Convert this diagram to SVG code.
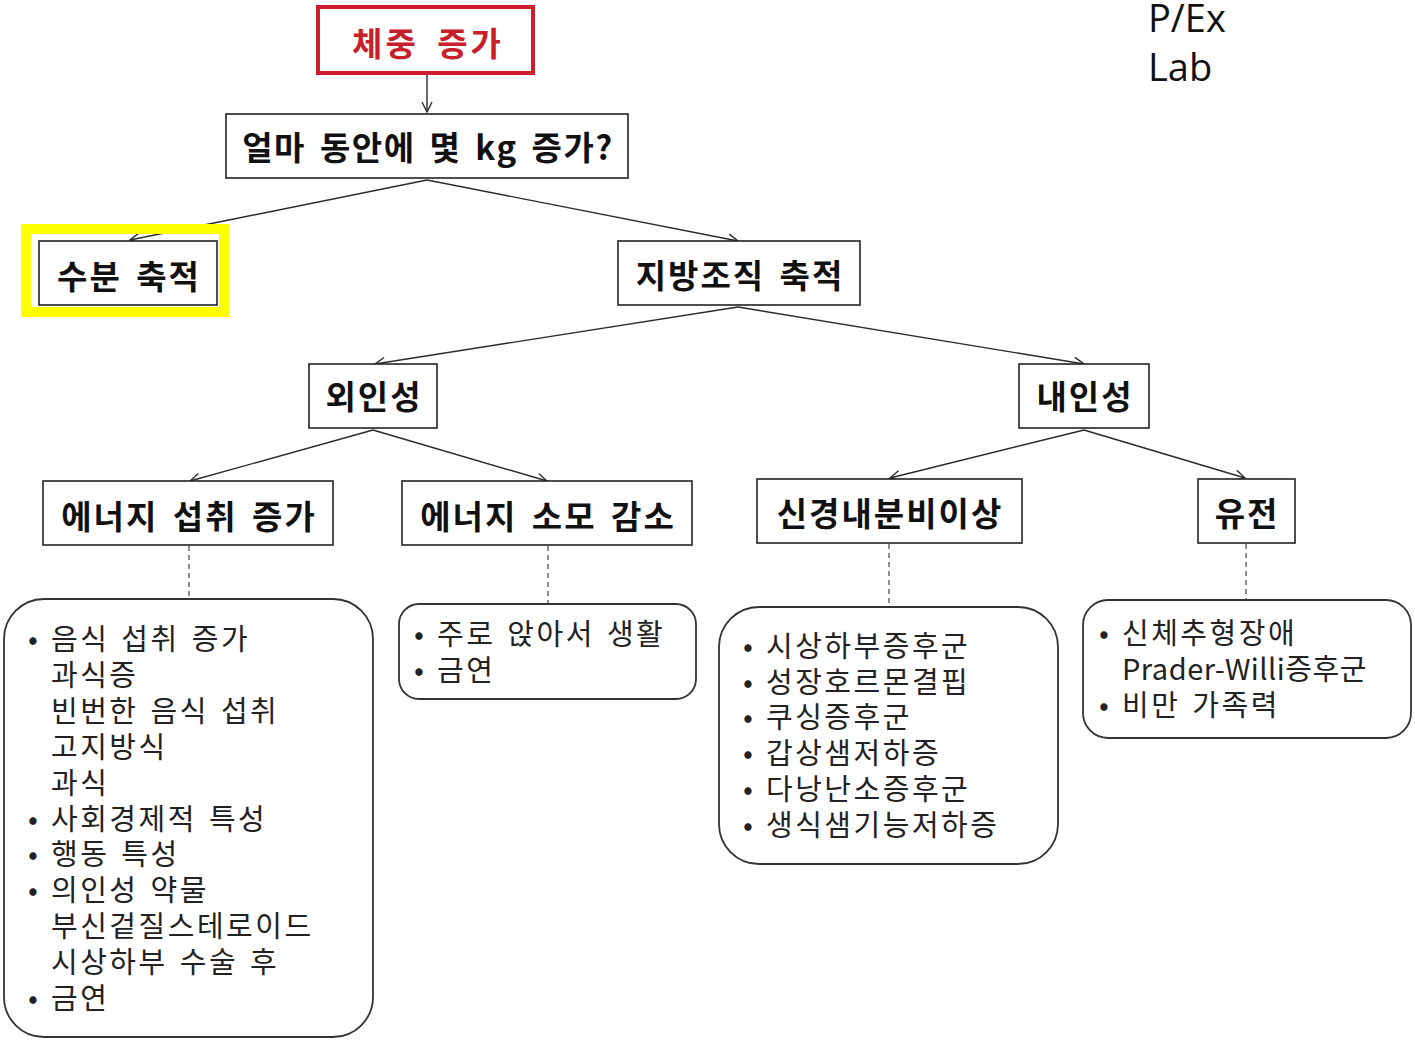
<svg xmlns="http://www.w3.org/2000/svg" width="1415" height="1041" viewBox="0 0 1415 1041">
<style>
.box{fill:#fff;stroke:#222;stroke-width:1.6}
.rbox{fill:#fff;stroke:#333;stroke-width:1.8}
.t{font-family:"Noto Sans CJK KR","Noto Sans",sans-serif;font-weight:bold;font-size:33px;fill:#111;text-anchor:middle;word-spacing:5px;letter-spacing:2px}
.l{font-family:"Noto Sans CJK KR","Noto Sans",sans-serif;font-size:29px;fill:#222;word-spacing:3px;letter-spacing:2.5px}
.c{fill:none;stroke:#2a2a2a;stroke-width:1.4}
.d{fill:none;stroke:#444;stroke-width:1.2;stroke-dasharray:5,4}
</style>
<defs>
<marker id="ah" markerUnits="userSpaceOnUse" markerWidth="14" markerHeight="14" refX="11" refY="6" orient="auto">
<path d="M1,1 L11,6 L1,11" fill="none" stroke="#2a2a2a" stroke-width="1.4"/>
</marker>
</defs>
<rect width="1415" height="1041" fill="#fff"/>
<g id="connectors">
<line class="c" x1="427" y1="74" x2="427" y2="112" marker-end="url(#ah)"/>
<line class="c" x1="427" y1="180" x2="130" y2="240" marker-end="url(#ah)"/>
<line class="c" x1="427" y1="180" x2="738" y2="241" marker-end="url(#ah)"/>
<line class="c" x1="738" y1="307" x2="375" y2="364" marker-end="url(#ah)"/>
<line class="c" x1="738" y1="307" x2="1084" y2="364" marker-end="url(#ah)"/>
<line class="c" x1="373" y1="430" x2="190" y2="481" marker-end="url(#ah)"/>
<line class="c" x1="373" y1="430" x2="547" y2="481" marker-end="url(#ah)"/>
<line class="c" x1="1084" y1="430" x2="890" y2="478" marker-end="url(#ah)"/>
<line class="c" x1="1084" y1="430" x2="1245" y2="478" marker-end="url(#ah)"/>
<line class="d" x1="189" y1="546" x2="189" y2="599"/>
<line class="d" x1="548" y1="546" x2="548" y2="604"/>
<line class="d" x1="889" y1="544" x2="889" y2="607"/>
<line class="d" x1="1246" y1="544" x2="1246" y2="600"/>
</g>
<g id="n-top">
<rect x="318" y="7" width="215" height="66" fill="#fff" stroke="#cc1f2d" stroke-width="4"/>
<text class="t" x="428" y="56" style="fill:#c8202b;word-spacing:8px;letter-spacing:3px">체중 증가</text>
</g>
<g id="n-question">
<rect class="box" x="226" y="114" width="402" height="64"/>
<text class="t" x="428" y="160" style="letter-spacing:1.5px">얼마 동안에 몇 kg 증가?</text>
</g>
<g id="n-water">
<rect x="26" y="229" width="198" height="83" fill="none" stroke="#ffff00" stroke-width="10"/>
<rect class="box" x="39" y="241" width="178" height="64"/>
<text class="t" x="129" y="289">수분 축적</text>
</g>
<g id="n-fat">
<rect class="box" x="618" y="241" width="242" height="64"/>
<text class="t" x="740" y="288">지방조직 축적</text>
</g>
<g id="n-exo">
<rect class="box" x="309" y="364" width="128" height="64"/>
<text class="t" x="374" y="409">외인성</text>
</g>
<g id="n-endo">
<rect class="box" x="1019" y="364" width="130" height="64"/>
<text class="t" x="1085" y="409">내인성</text>
</g>
<g id="n-intake">
<rect class="box" x="43" y="481" width="290" height="64"/>
<text class="t" x="189" y="529">에너지 섭취 증가</text>
</g>
<g id="n-expend">
<rect class="box" x="402" y="481" width="290" height="64"/>
<text class="t" x="548" y="529">에너지 소모 감소</text>
</g>
<g id="n-neuro">
<rect class="box" x="757" y="479" width="265" height="64"/>
<text class="t" x="890" y="526">신경내분비이상</text>
</g>
<g id="n-gene">
<rect class="box" x="1198" y="479" width="97" height="64"/>
<text class="t" x="1247" y="526">유전</text>
</g>
<g id="list-intake">
<rect class="rbox" x="4" y="599" width="369" height="438" rx="40"/>
<text class="l"><tspan x="28" y="650">•</tspan><tspan x="51" y="650">음식 섭취 증가</tspan></text>
<text class="l" x="51" y="686">과식증</text>
<text class="l" x="51" y="722">빈번한 음식 섭취</text>
<text class="l" x="51" y="758">고지방식</text>
<text class="l" x="51" y="794">과식</text>
<text class="l"><tspan x="28" y="830">•</tspan><tspan x="51" y="830">사회경제적 특성</tspan></text>
<text class="l"><tspan x="28" y="865">•</tspan><tspan x="51" y="865">행동 특성</tspan></text>
<text class="l"><tspan x="28" y="901">•</tspan><tspan x="51" y="901">의인성 약물</tspan></text>
<text class="l" x="51" y="937">부신겉질스테로이드</text>
<text class="l" x="51" y="973">시상하부 수술 후</text>
<text class="l"><tspan x="28" y="1009">•</tspan><tspan x="51" y="1009">금연</tspan></text>
</g>
<g id="list-expend">
<rect class="rbox" x="399" y="604" width="297" height="95" rx="20"/>
<text class="l"><tspan x="414" y="645">•</tspan><tspan x="437" y="645">주로 앉아서 생활</tspan></text>
<text class="l"><tspan x="414" y="681">•</tspan><tspan x="437" y="681">금연</tspan></text>
</g>
<g id="list-neuro">
<rect class="rbox" x="719" y="607" width="339" height="257" rx="40"/>
<text class="l"><tspan x="743" y="657">•</tspan><tspan x="766" y="657">시상하부증후군</tspan></text>
<text class="l"><tspan x="743" y="693">•</tspan><tspan x="766" y="693">성장호르몬결핍</tspan></text>
<text class="l"><tspan x="743" y="728">•</tspan><tspan x="766" y="728">쿠싱증후군</tspan></text>
<text class="l"><tspan x="743" y="764">•</tspan><tspan x="766" y="764">갑상샘저하증</tspan></text>
<text class="l"><tspan x="743" y="800">•</tspan><tspan x="766" y="800">다낭난소증후군</tspan></text>
<text class="l"><tspan x="743" y="836">•</tspan><tspan x="766" y="836">생식샘기능저하증</tspan></text>
</g>
<g id="list-gene">
<rect class="rbox" x="1083" y="600" width="328" height="138" rx="25"/>
<text class="l"><tspan x="1099" y="644">•</tspan><tspan x="1122" y="644">신체추형장애</tspan></text>
<text class="l" x="1122" y="680" style="letter-spacing:0.5px">Prader-Willi증후군</text>
<text class="l"><tspan x="1099" y="716">•</tspan><tspan x="1122" y="716">비만 가족력</tspan></text>
</g>
<g id="watermark">
<text x="1148" y="32" style="font-family:'Open Sans','Noto Sans',sans-serif;font-size:38px;fill:#111">P/Ex</text>
<text x="1148" y="81" style="font-family:'Open Sans','Noto Sans',sans-serif;font-size:38px;fill:#111">Lab</text>
</g>
</svg>
